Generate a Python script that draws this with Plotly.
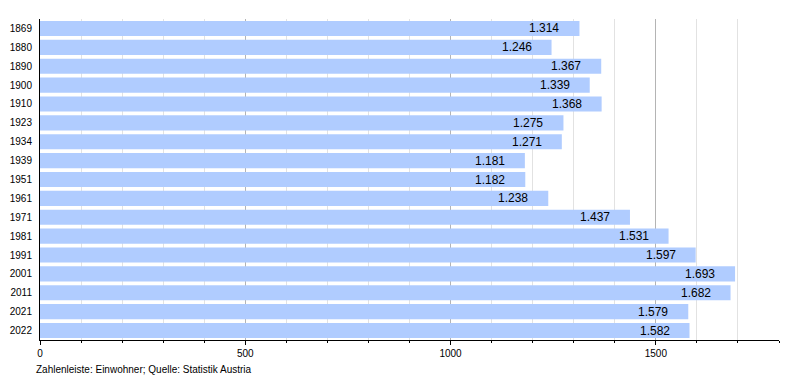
import plotly.graph_objects as go

years = ["1869", "1880", "1890", "1900", "1910", "1923", "1934", "1939", "1951",
         "1961", "1971", "1981", "1991", "2001", "2011", "2021", "2022"]
population = [1314, 1246, 1367, 1339, 1368, 1275, 1271, 1181, 1182,
              1238, 1437, 1531, 1597, 1693, 1682, 1579, 1582]
x_ticks = [0, 500, 1000, 1500]
footer = "Zahlenleiste: Einwohner; Quelle: Statistik Austria"

def de_fmt(v):
    return f"{v:,}".replace(",", ".")

FONT = "Liberation Sans, Arial, sans-serif"

fig = go.Figure()
fig.add_trace(go.Bar(
    y=years, x=population, orientation="h",
    marker=dict(color="#b0ccff", line=dict(width=0)),
    hoverinfo="skip",
))

for i, v in enumerate(population):
    fig.add_annotation(x=v, y=i, text=de_fmt(v), showarrow=False,
                       xanchor="right", yanchor="middle", xshift=-18,
                       font=dict(family=FONT, size=12, color="#000"))

fig.add_annotation(x=0, y=0, xref="paper", yref="paper", text=footer,
                   showarrow=False, xanchor="left", yanchor="middle",
                   xshift=-6, yshift=-29,
                   font=dict(family=FONT, size=10, color="#000"))

# page body has an 8px default margin; compensate so the plot lands where the reference has it
fig.update_layout(
    width=792, height=372,
    margin=dict(l=32, r=21, t=11, b=40),
    plot_bgcolor="white", paper_bgcolor="white",
    showlegend=False, bargap=0.2,
    font=dict(family=FONT, size=10, color="#000"),
)
fig.update_xaxes(
    range=[0, 1800], tickvals=x_ticks, ticktext=[str(t) for t in x_ticks],
    showgrid=True, gridcolor="#b4b4b4", gridwidth=1,
    minor=dict(dtick=100, tick0=0, showgrid=True, gridcolor="#e2e2e2",
               ticks="outside", ticklen=2, tickcolor="#000"),
    ticks="outside", ticklen=4, tickcolor="#000",
    showline=True, linecolor="#000", linewidth=1,
    zeroline=False, tickfont=dict(size=10), automargin=False,
)
fig.update_yaxes(
    type="category", categoryorder="array", categoryarray=years,
    range=[len(years) - 0.5, -0.5], showgrid=False, ticks="",
    showline=True, linecolor="#000", linewidth=1,
    ticklabelstandoff=5,
    tickfont=dict(size=10), automargin=False,
)

fig.write_html("out.html")
